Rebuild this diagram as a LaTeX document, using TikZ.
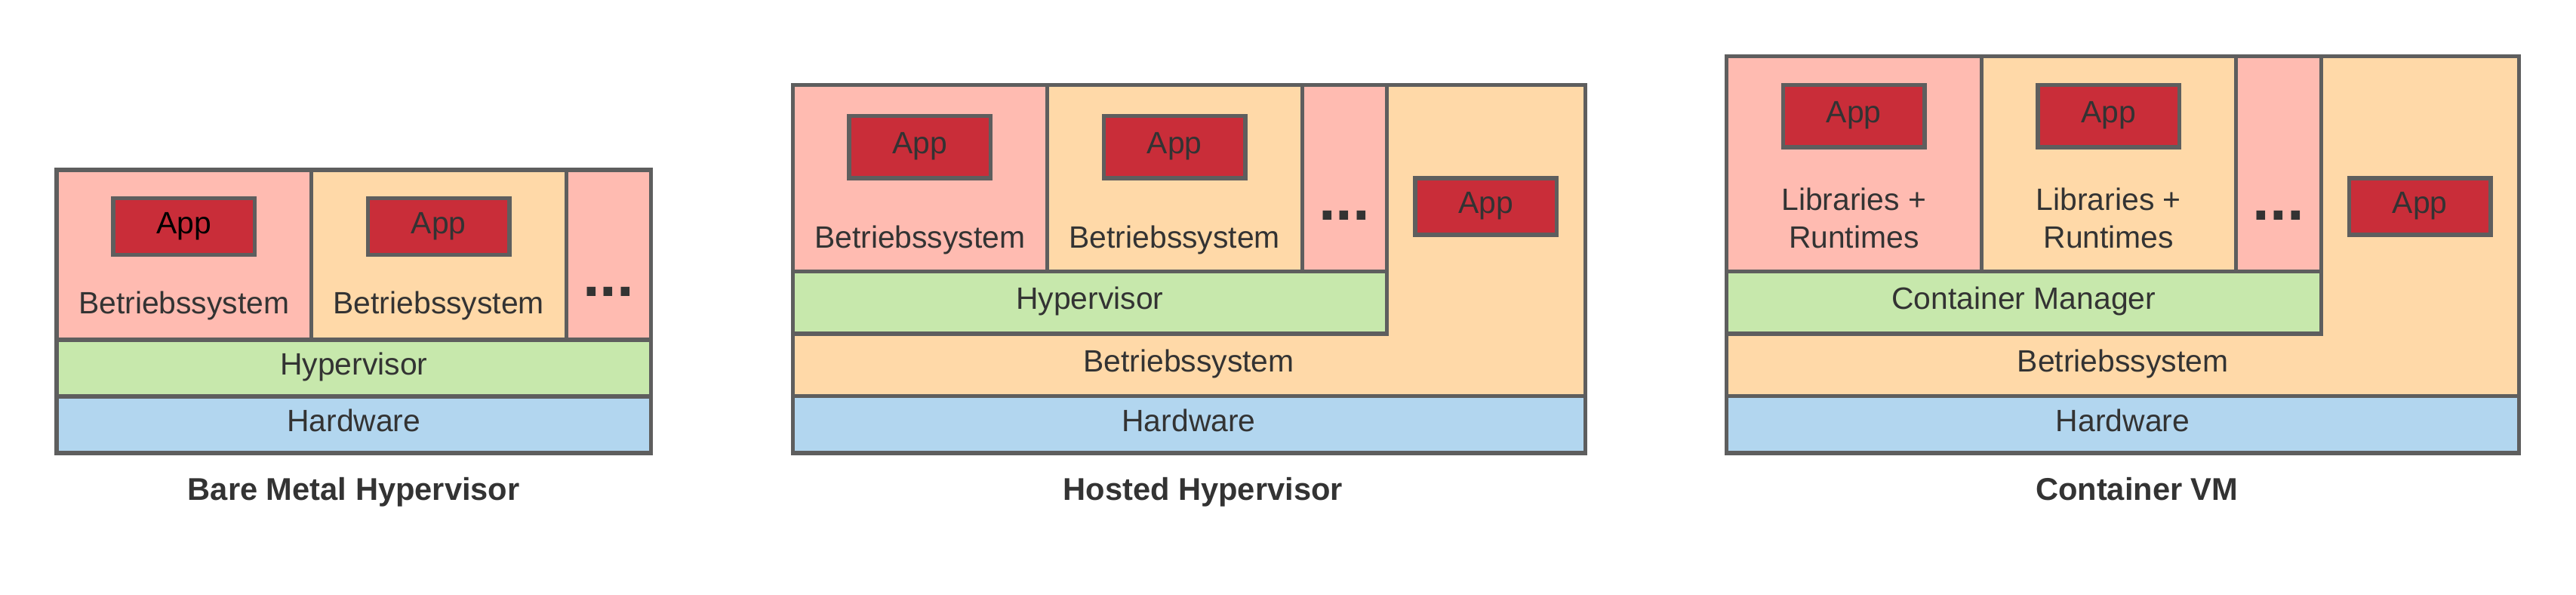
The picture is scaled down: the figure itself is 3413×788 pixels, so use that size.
\documentclass[tikz,border=0pt]{standalone}
\usepackage{fontspec}
\setmainfont{Liberation Sans}
\definecolor{linec}{HTML}{5E5E5E}
\definecolor{txtc}{HTML}{333333}
\definecolor{pinkc}{HTML}{FFBBB1}
\definecolor{peachc}{HTML}{FFD9A8}
\definecolor{greenc}{HTML}{C7E8AC}
\definecolor{bluec}{HTML}{B2D6EF}
\definecolor{appc}{HTML}{C92D39}
\tikzset{
  boxs/.style={draw=linec, line width=1.9pt, rectangle, inner sep=0pt, outer sep=0pt, anchor=north west},
  appbox/.style={boxs, fill=appc, line width=2.1pt},
  lbl/.style={anchor=base, inner sep=0pt, text=txtc, font=\fontsize{15.5}{18.6}\selectfont},
  ttl/.style={anchor=base, inner sep=0pt, text=txtc, font=\fontsize{15.8}{19}\selectfont\bfseries},
  dots/.style={anchor=base, inner sep=0pt, text=txtc, font=\fontsize{31}{36}\selectfont\bfseries},
}
\newcommand\bx[6]{\node[boxs, fill=#6, minimum width={(#4-#2)*0.0133333cm}, minimum height={(#5-#3)*0.0133333cm}] (#1) at (#2,#3) {};}
\newcommand\ap[5]{\node[appbox, minimum width={(#4-#2)*0.0133333cm}, minimum height={(#5-#3)*0.0133333cm}] (#1) at (#2,#3) {};}
\begin{document}
\begin{tikzpicture}[x=0.0133333cm, y=-0.0133333cm]
\fill[white] (0,0) rectangle (3413,788);
\useasboundingbox (0,0) rectangle (3413,788);

% ---------- Bare Metal Hypervisor ----------
\bx{aA}{75}{225}{412.5}{450}{pinkc}
\bx{aB}{412.5}{225}{750}{450}{peachc}
\bx{aC}{750}{225}{862.5}{450}{pinkc}
\bx{aHyp}{75}{450}{862.5}{525}{greenc}
\bx{aHw}{75}{525}{862.5}{600}{bluec}
\ap{aApp1}{150}{262.5}{337.5}{337.5}
\ap{aApp2}{487.5}{262.5}{675}{337.5}
\node[lbl, text=black] (aAppT1) at (243.75,309) {App};
\node[lbl] (aAppT2) at (581.25,309) {App};
\node[lbl] (aOs1) at (243.75,416) {Betriebssystem};
\node[lbl] (aOs2) at (581.25,416) {Betriebssystem};
\node[dots] (aDots) at (806.25,392) {...};
\node[lbl] (aHypT) at (468.75,496.5) {Hypervisor};
\node[lbl] (aHwT) at (468.75,571.5) {Hardware};
\node[ttl] (aTitle) at (468.75,662) {Bare Metal Hypervisor};

% ---------- Hosted Hypervisor ----------
\bx{bOs}{1050}{112.5}{2100}{524.5}{peachc}
\bx{bA}{1050}{112.5}{1387.5}{359.5}{pinkc}
\bx{bB}{1387.5}{112.5}{1725}{359.5}{peachc}
\bx{bC}{1725}{112.5}{1837.5}{359.5}{pinkc}
\bx{bHyp}{1050}{359.5}{1837.5}{442}{greenc}
\bx{bHw}{1050}{524.5}{2100}{600}{bluec}
\ap{bApp1}{1125}{153.5}{1312.5}{236}
\ap{bApp2}{1462.5}{153.5}{1650}{236}
\ap{bApp3}{1875}{236}{2062.5}{311}
\node[lbl] (bAppT1) at (1218.75,203.5) {App};
\node[lbl] (bAppT2) at (1556.25,203.5) {App};
\node[lbl] (bAppT3) at (1968.75,282.5) {App};
\node[lbl] (bOs1) at (1218.75,329) {Betriebssystem};
\node[lbl] (bOs2) at (1556.25,329) {Betriebssystem};
\node[dots] (bDots) at (1781.25,292) {...};
\node[lbl] (bHypT) at (1443.75,409.75) {Hypervisor};
\node[lbl] (bOsT) at (1575,492) {Betriebssystem};
\node[lbl] (bHwT) at (1575,571.5) {Hardware};
\node[ttl] (bTitle) at (1593.75,662) {Hosted Hypervisor};

% ---------- Container VM ----------
\bx{cOs}{2287.5}{75}{3337.5}{524.5}{peachc}
\bx{cA}{2287.5}{75}{2625}{359.5}{pinkc}
\bx{cB}{2625}{75}{2962.5}{359.5}{peachc}
\bx{cC}{2962.5}{75}{3075}{359.5}{pinkc}
\bx{cCm}{2287.5}{359.5}{3075}{442}{greenc}
\bx{cHw}{2287.5}{524.5}{3337.5}{600}{bluec}
\ap{cApp1}{2362.5}{112.5}{2550}{195}
\ap{cApp2}{2700}{112.5}{2887.5}{195}
\ap{cApp3}{3112.5}{236}{3300}{311}
\node[lbl] (cAppT1) at (2456.25,162.5) {App};
\node[lbl] (cAppT2) at (2793.75,162.5) {App};
\node[lbl] (cAppT3) at (3206.25,282.5) {App};
\node[lbl] (cLib1) at (2456.25,279) {Libraries +};
\node[lbl] (cRun1) at (2456.25,329) {Runtimes};
\node[lbl] (cLib2) at (2793.75,279) {Libraries +};
\node[lbl] (cRun2) at (2793.75,329) {Runtimes};
\node[dots] (cDots) at (3018.75,292) {...};
\node[lbl] (cCmT) at (2681.25,410) {Container Manager};
\node[lbl] (cOsT) at (2812.5,492) {Betriebssystem};
\node[lbl] (cHwT) at (2812.5,571.5) {Hardware};
\node[ttl] (cTitle) at (2831.25,662) {Container VM};
\end{tikzpicture}
\end{document}
